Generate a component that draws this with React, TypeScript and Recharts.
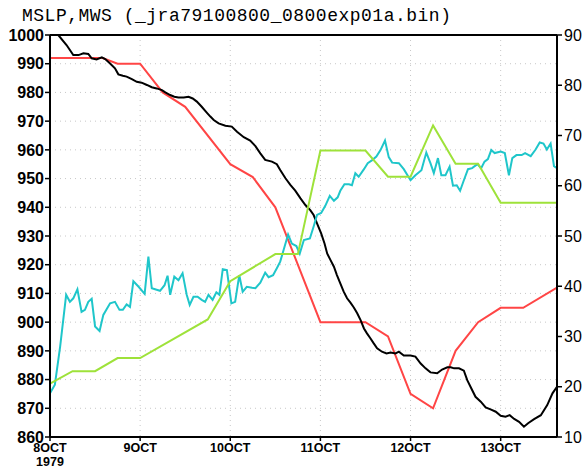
import React from "react";
import {
  ComposedChart,
  Line,
  XAxis,
  YAxis,
  CartesianGrid,
  ReferenceLine,
} from "recharts";

// hours since 8 OCT 1979 00Z
const xTicks = [0, 24, 48, 72, 96, 120];
const xLabels = ["8OCT", "9OCT", "10OCT", "11OCT", "12OCT", "13OCT"];
const xYear = "1979";

const pressureTicks = [860, 870, 880, 890, 900, 910, 920, 930, 940, 950, 960, 970, 980, 990, 1000];
const windTicks = [10, 20, 30, 40, 50, 60, 70, 80, 90];

// model MSLP (hPa)
const mslpHours = [
  0, 2.2, 4.4, 6.2, 7.6, 8.9, 10.2, 11.1, 12.4, 13.8, 14.7, 16, 17.3, 18.2, 19.4, 20.4, 21.8, 23.1,
  24.4, 25.8, 27.1, 28.4, 29.8, 30.7, 32, 33.1, 34.2, 35.6, 36.9, 38, 39.1, 40.4, 41.8, 42.7, 43.6,
  44.9, 46.7, 48.4, 49.8, 51.6, 53.3, 54.7, 56, 57.3, 59.1, 60.4, 61.3, 62.7, 64, 65.3, 66.7, 68,
  69.3, 70.2, 71.1, 72.2, 73.1, 73.8, 74.7, 75.6, 76.4, 77.3, 78.2, 79.1, 80, 80.9, 81.8, 82.7,
  83.6, 84.4, 85.3, 86.2, 87.1, 88.4, 89.6, 90.7, 92, 92.9, 94.2, 96, 97.3, 98.7, 100, 101.3,
  103.1, 104.4, 105.8, 106.7, 107.6, 108.9, 110.2, 111.1, 112.2, 113.3, 114.7, 116, 117.3, 118.7,
  120, 121.3, 122.4, 123.6, 124.9, 126.2, 127.3, 128.9, 130.7, 132.4, 133.8, 135,
];
const mslpValues = [
  1002, 1000, 996.5, 993, 993, 993.6, 993.4, 991.9, 991.5, 992.2, 991.6, 990.1, 988.4, 986.3,
  985.8, 985.5, 984.6, 983.7, 983.4, 982.6, 981.8, 981.4, 980.8, 980, 979.1, 978.5, 978.2, 978.2,
  978.5, 977.9, 976.8, 975, 972.9, 971.6, 970.4, 969.2, 968.4, 968.1, 966.3, 964.4, 963.2, 961.3,
  958.8, 956.5, 955.9, 955, 953, 950.1, 947.8, 945.8, 943.1, 940.8, 939, 937.3, 934.4, 930.9,
  927.4, 923.9, 921.6, 919.3, 916.4, 913.5, 910.6, 908.3, 906.8, 905.1, 903.1, 900.7, 897.8,
  896.1, 894.4, 892.6, 890.9, 889.7, 889.1, 889.4, 889.1, 889.7, 888.4, 888.4, 888, 885.6, 883.9,
  882.5, 882.2, 883.5, 884.3, 884.3, 883.9, 883.9, 883.1, 879.8, 876.9, 874, 872.3, 870.3, 869.6,
  868.8, 867.4, 867.1, 867.6, 866.3, 865.3, 863.6, 864.8, 866.2, 867.6, 871.1, 875.2, 877.5,
];

// best track pressure (hPa)
const btPresHours = [0, 14, 18, 24, 30, 36, 48, 54, 60, 72, 84, 90, 96, 102, 108, 114, 120, 126, 135];
const btPresValues = [992, 992, 990, 990, 980, 975, 955, 950.5, 940, 900, 900, 895, 875, 870, 890, 900, 905, 905, 912];

// model max wind speed
const mwsHours = [
  0, 1.3, 2.7, 4.3, 5.3, 6.2, 7.3, 8.4, 9.3, 10.2, 11.1, 12, 13.2, 14.2, 16, 17.3, 18.5, 19.4, 20.4,
  21.3, 22.2, 23.6, 25.2, 26.2, 27.1, 28.4, 29.3, 30.5, 31.3, 32, 33.1, 34.2, 35.3, 36.4, 37.2,
  38.2, 39.3, 40.4, 41.3, 42.2, 43.3, 44.3, 45.1, 46, 47.1, 48.3, 49.3, 50.4, 51.3, 52.4, 53.8,
  54.7, 56, 57.3, 58.2, 59.4, 60.4, 61.3, 62.2, 63.4, 64.4, 65.6, 66.5, 67.6, 69.2, 70.2, 71.1,
  72.2, 73.3, 74.5, 75.6, 76.6, 77.3, 78.4, 79.6, 80.4, 81.3, 82.2, 83.6, 84.6, 85.8, 86.9, 88,
  89.2, 90.2, 91.1, 92.9, 94.2, 96, 97.3, 98.9, 100.2, 101.3, 102.2, 103.3, 104.2, 105.3, 106.4,
  107.3, 108.3, 109.2, 110.2, 111.3, 112.4, 113.8, 114.8, 115.7, 116.6, 117.5, 118.4, 120, 121.1,
  122.2, 123.1, 124.2, 125.6, 126.5, 128, 129.3, 130.4, 131.4, 132.3, 133.3, 134.2, 135,
];
const mwsValues = [
  18.7, 20.4, 28, 38.3, 36.9, 37.6, 39.4, 34.9, 35.3, 36.9, 37.5, 32, 31.1, 34.3, 36.6, 36.9, 35.3,
  35.3, 36.4, 35.9, 41, 39.9, 38.5, 45.9, 39.6, 39.3, 39.1, 40.2, 42.1, 38.3, 41.9, 41.2, 42.6,
  38.3, 36.3, 37.9, 37.9, 37.3, 36.9, 38.3, 37.3, 38.8, 38.3, 43.4, 43.2, 36.6, 36.9, 42.2, 38.9,
  39.9, 39.7, 39.6, 40.7, 42.7, 41.8, 42.2, 43.6, 44.9, 47.2, 50.3, 48.5, 48, 46.5, 49.2, 49.5,
  51.9, 54.2, 54.6, 56, 58, 57, 57.7, 59, 60.3, 60.3, 60.1, 62.5, 61.8, 63.3, 64.5, 65.1, 65.8,
  67.1, 69, 65.7, 64.6, 64.5, 63.3, 61.1, 62.1, 63.1, 66.6, 64.5, 62.5, 65.5, 62.1, 62.1, 63.8, 60,
  60.1, 59, 61.1, 63.3, 63.5, 64.3, 63.5, 64.8, 65.3, 67.1, 66.5, 66.8, 66.5, 62.1, 65.5, 66.1,
  66.1, 66.5, 65.9, 67.2, 68.6, 68.4, 67.2, 68.4, 63.9, 63.5,
];

// best track wind
const btWindHours = [0, 6, 12, 18, 24, 42, 48, 60, 66, 72, 84, 90, 96, 102, 108, 114, 120, 135];
const btWindValues = [20.6, 23.1, 23.1, 25.7, 25.7, 33.4, 41, 46.4, 46.4, 67, 67, 61.8, 61.8, 72, 64.4, 64.4, 56.6, 56.6];

const toPoints = (hours: number[], values: number[]) =>
  hours.map((h, i) => ({ h, v: values[i] }));

const mslpData = toPoints(mslpHours, mslpValues);
const btPresData = toPoints(btPresHours, btPresValues);
const mwsData = toPoints(mwsHours, mwsValues);
const btWindData = toPoints(btWindHours, btWindValues);

const XTick = (props: any) => {
  const { x, y, payload, index } = props;
  const i = xTicks.indexOf(payload.value);
  return (
    <g>
      <text
        x={x}
        y={y}
        dy="0.72em"
        textAnchor="middle"
        fontFamily="Liberation Sans"
        fontWeight="bold"
        fontSize={12.5}
        fill="#000"
      >
        {xLabels[i]}
      </text>
      {index === 0 && (
        <text
          x={x}
          y={y + 14}
          dy="0.72em"
          textAnchor="middle"
          fontFamily="Liberation Sans"
          fontWeight="bold"
          fontSize={12.5}
          fill="#000"
        >
          {xYear}
        </text>
      )}
    </g>
  );
};

export default function App() {
  return (
    <div style={{ position: "absolute", left: 0, top: 0, width: 587, height: 470, background: "#fff" }}>
      <div
        style={{
          position: "absolute",
          left: 22,
          top: 5,
          fontFamily: "Liberation Mono",
          fontSize: 18,
          letterSpacing: 0.5,
          lineHeight: "22px",
          color: "#000",
          whiteSpace: "nowrap",
        }}
      >
        MSLP,MWS (_jra79100800_0800exp01a.bin)
      </div>
      <ComposedChart
        width={587}
        height={470}
        margin={{ top: 35, right: 0, bottom: 0, left: 0 }}
        style={{ position: "absolute", left: 0, top: 0 }}
      >
        <CartesianGrid
          yAxisId="left"
          stroke="#c8c8c8"
          strokeDasharray="1 4"
          horizontal
          vertical
        />
        <XAxis
          dataKey="h"
          type="number"
          domain={[0, 135]}
          ticks={xTicks}
          height={33}
          tickSize={4}
          tickMargin={2}
          axisLine={{ stroke: "#000", strokeWidth: 2 }}
          tickLine={{ stroke: "#000", strokeWidth: 1.5 }}
          tick={<XTick />}
          interval={0}
          allowDataOverflow
        />
        <YAxis
          yAxisId="left"
          orientation="left"
          domain={[860, 1000]}
          ticks={pressureTicks}
          width={50}
          tickSize={5}
          tickMargin={1}
          interval={0}
          allowDataOverflow
          axisLine={{ stroke: "#000", strokeWidth: 2 }}
          tickLine={{ stroke: "#000", strokeWidth: 1.5 }}
          tick={{ fill: "#000", fontSize: 16, fontWeight: "bold", fontFamily: "Liberation Sans" }}
        />
        <YAxis
          yAxisId="right"
          orientation="right"
          domain={[10, 90]}
          ticks={windTicks}
          width={30}
          tickSize={5}
          tickMargin={2}
          interval={0}
          allowDataOverflow
          axisLine={{ stroke: "#000", strokeWidth: 2 }}
          tickLine={{ stroke: "#000", strokeWidth: 1.5 }}
          tick={{ fill: "#000", fontSize: 16, fontFamily: "Liberation Sans" }}
        />
        <ReferenceLine yAxisId="left" y={1000} stroke="#000" strokeWidth={2} />
        <Line
          yAxisId="left"
          data={btPresData}
          dataKey="v"
          stroke="#ff4545"
          strokeWidth={2}
          dot={false}
          isAnimationActive={false}
        />
        <Line
          yAxisId="left"
          data={mslpData}
          dataKey="v"
          stroke="#000"
          strokeWidth={2}
          dot={false}
          isAnimationActive={false}
        />
        <Line
          yAxisId="right"
          data={mwsData}
          dataKey="v"
          stroke="#1fc6ca"
          strokeWidth={2}
          dot={false}
          isAnimationActive={false}
        />
        <Line
          yAxisId="right"
          data={btWindData}
          dataKey="v"
          stroke="#9ee23a"
          strokeWidth={2}
          dot={false}
          isAnimationActive={false}
        />
      </ComposedChart>
    </div>
  );
}
